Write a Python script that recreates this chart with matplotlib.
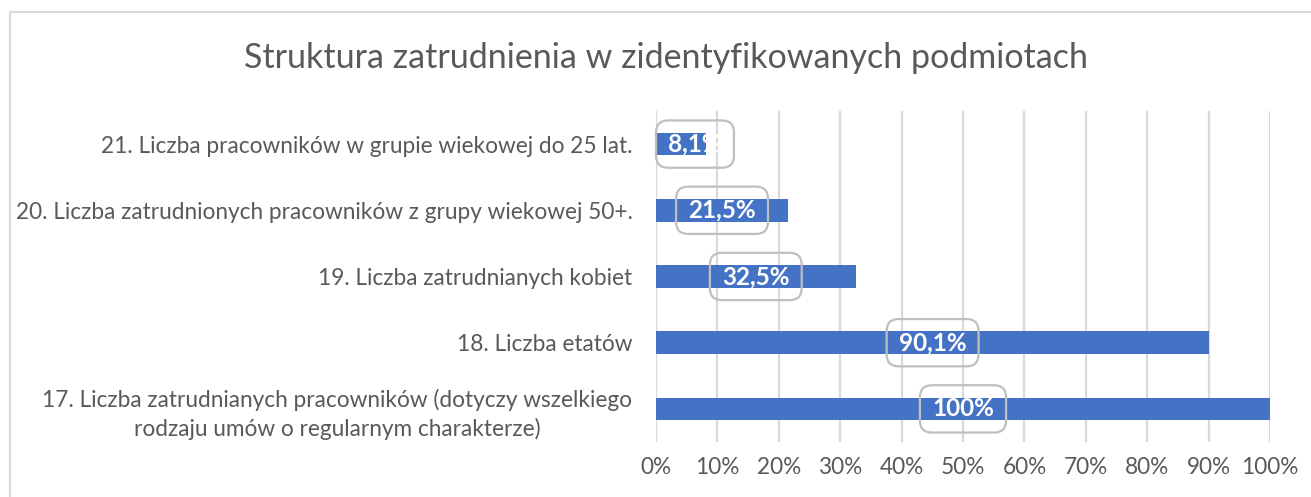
import matplotlib
matplotlib.use("Agg")
import matplotlib.pyplot as plt
from matplotlib.patches import Rectangle
from matplotlib.ticker import PercentFormatter

plt.rcParams['font.family'] = ['Lato', 'DejaVu Sans']

categories = [
    "17. Liczba zatrudnianych pracowników (dotyczy wszelkiego\nrodzaju umów o regularnym charakterze)",
    "18. Liczba etatów",
    "19. Liczba zatrudnianych kobiet",
    "20. Liczba zatrudnionych pracowników z grupy wiekowej 50+.",
    "21. Liczba pracowników w grupie wiekowej do 25 lat.",
]
values = [100, 90.1, 32.5, 21.5, 8.1]
value_labels = ["100%", "90,1%", "32,5%", "21,5%", "8,1%"]

gray = "#595959"
blue = "#4472C4"

fig = plt.figure(figsize=(13.11, 4.97), dpi=100)
ax = fig.add_axes([0.5004, 0.1107, 0.4683, 0.666])

ypos = range(len(categories))
ax.barh(ypos, values, height=0.34, color=blue, zorder=2)

ax.set_xlim(0, 100)
ax.set_ylim(-0.5, len(categories) - 0.5)
ax.set_xticks(range(0, 101, 10))
ax.xaxis.set_major_formatter(PercentFormatter(decimals=0))
ax.set_yticks(list(ypos))
ax.set_yticklabels(categories, multialignment='center', linespacing=1.4)
ax.tick_params(axis='both', length=0, labelsize=16.3, labelcolor=gray)
ax.tick_params(axis='x', pad=11)
ax.tick_params(axis='y', pad=17)
ax.grid(axis='x', color="#d9d9d9", linewidth=1.6, zorder=0)
for s in ax.spines.values():
    s.set_visible(False)

# value labels in rounded boxes at bar centres
labels = []
for y, v, txt in zip(ypos, values, value_labels):
    t = ax.text(v / 2, y, txt, ha='center', va='center', color='white',
                fontsize=17.5, fontweight='bold', zorder=3,
                bbox=dict(boxstyle='round,pad=0.5,rounding_size=0.5',
                          facecolor='none', edgecolor='#bfbfbf', linewidth=1.6))
    labels.append(t)

# keep boxes from sticking out past the left edge of the plot
fig.canvas.draw()
renderer = fig.canvas.get_renderer()
x0 = ax.transData.transform((0, 0))[0]
for t in labels:
    box = t.get_bbox_patch().get_window_extent(renderer)
    if box.x0 < x0:
        shift = x0 - box.x0
        xd, yd = t.get_position()
        px = ax.transData.transform((xd, yd))[0] + shift
        t.set_x(ax.transData.inverted().transform((px, 0))[0])

fig.text(0.508, 0.883, "Struktura zatrudnienia w zidentyfikowanych podmiotach",
         ha='center', va='center', fontsize=24.5, color=gray)

# chart frame
fig.patches.append(Rectangle((10 / 1311, -0.1), 1.2, (497 - 12) / 497 + 0.1,
                             transform=fig.transFigure, fill=False,
                             edgecolor="#d9d9d9", linewidth=1.5))

fig.savefig("out.png", dpi=100)
